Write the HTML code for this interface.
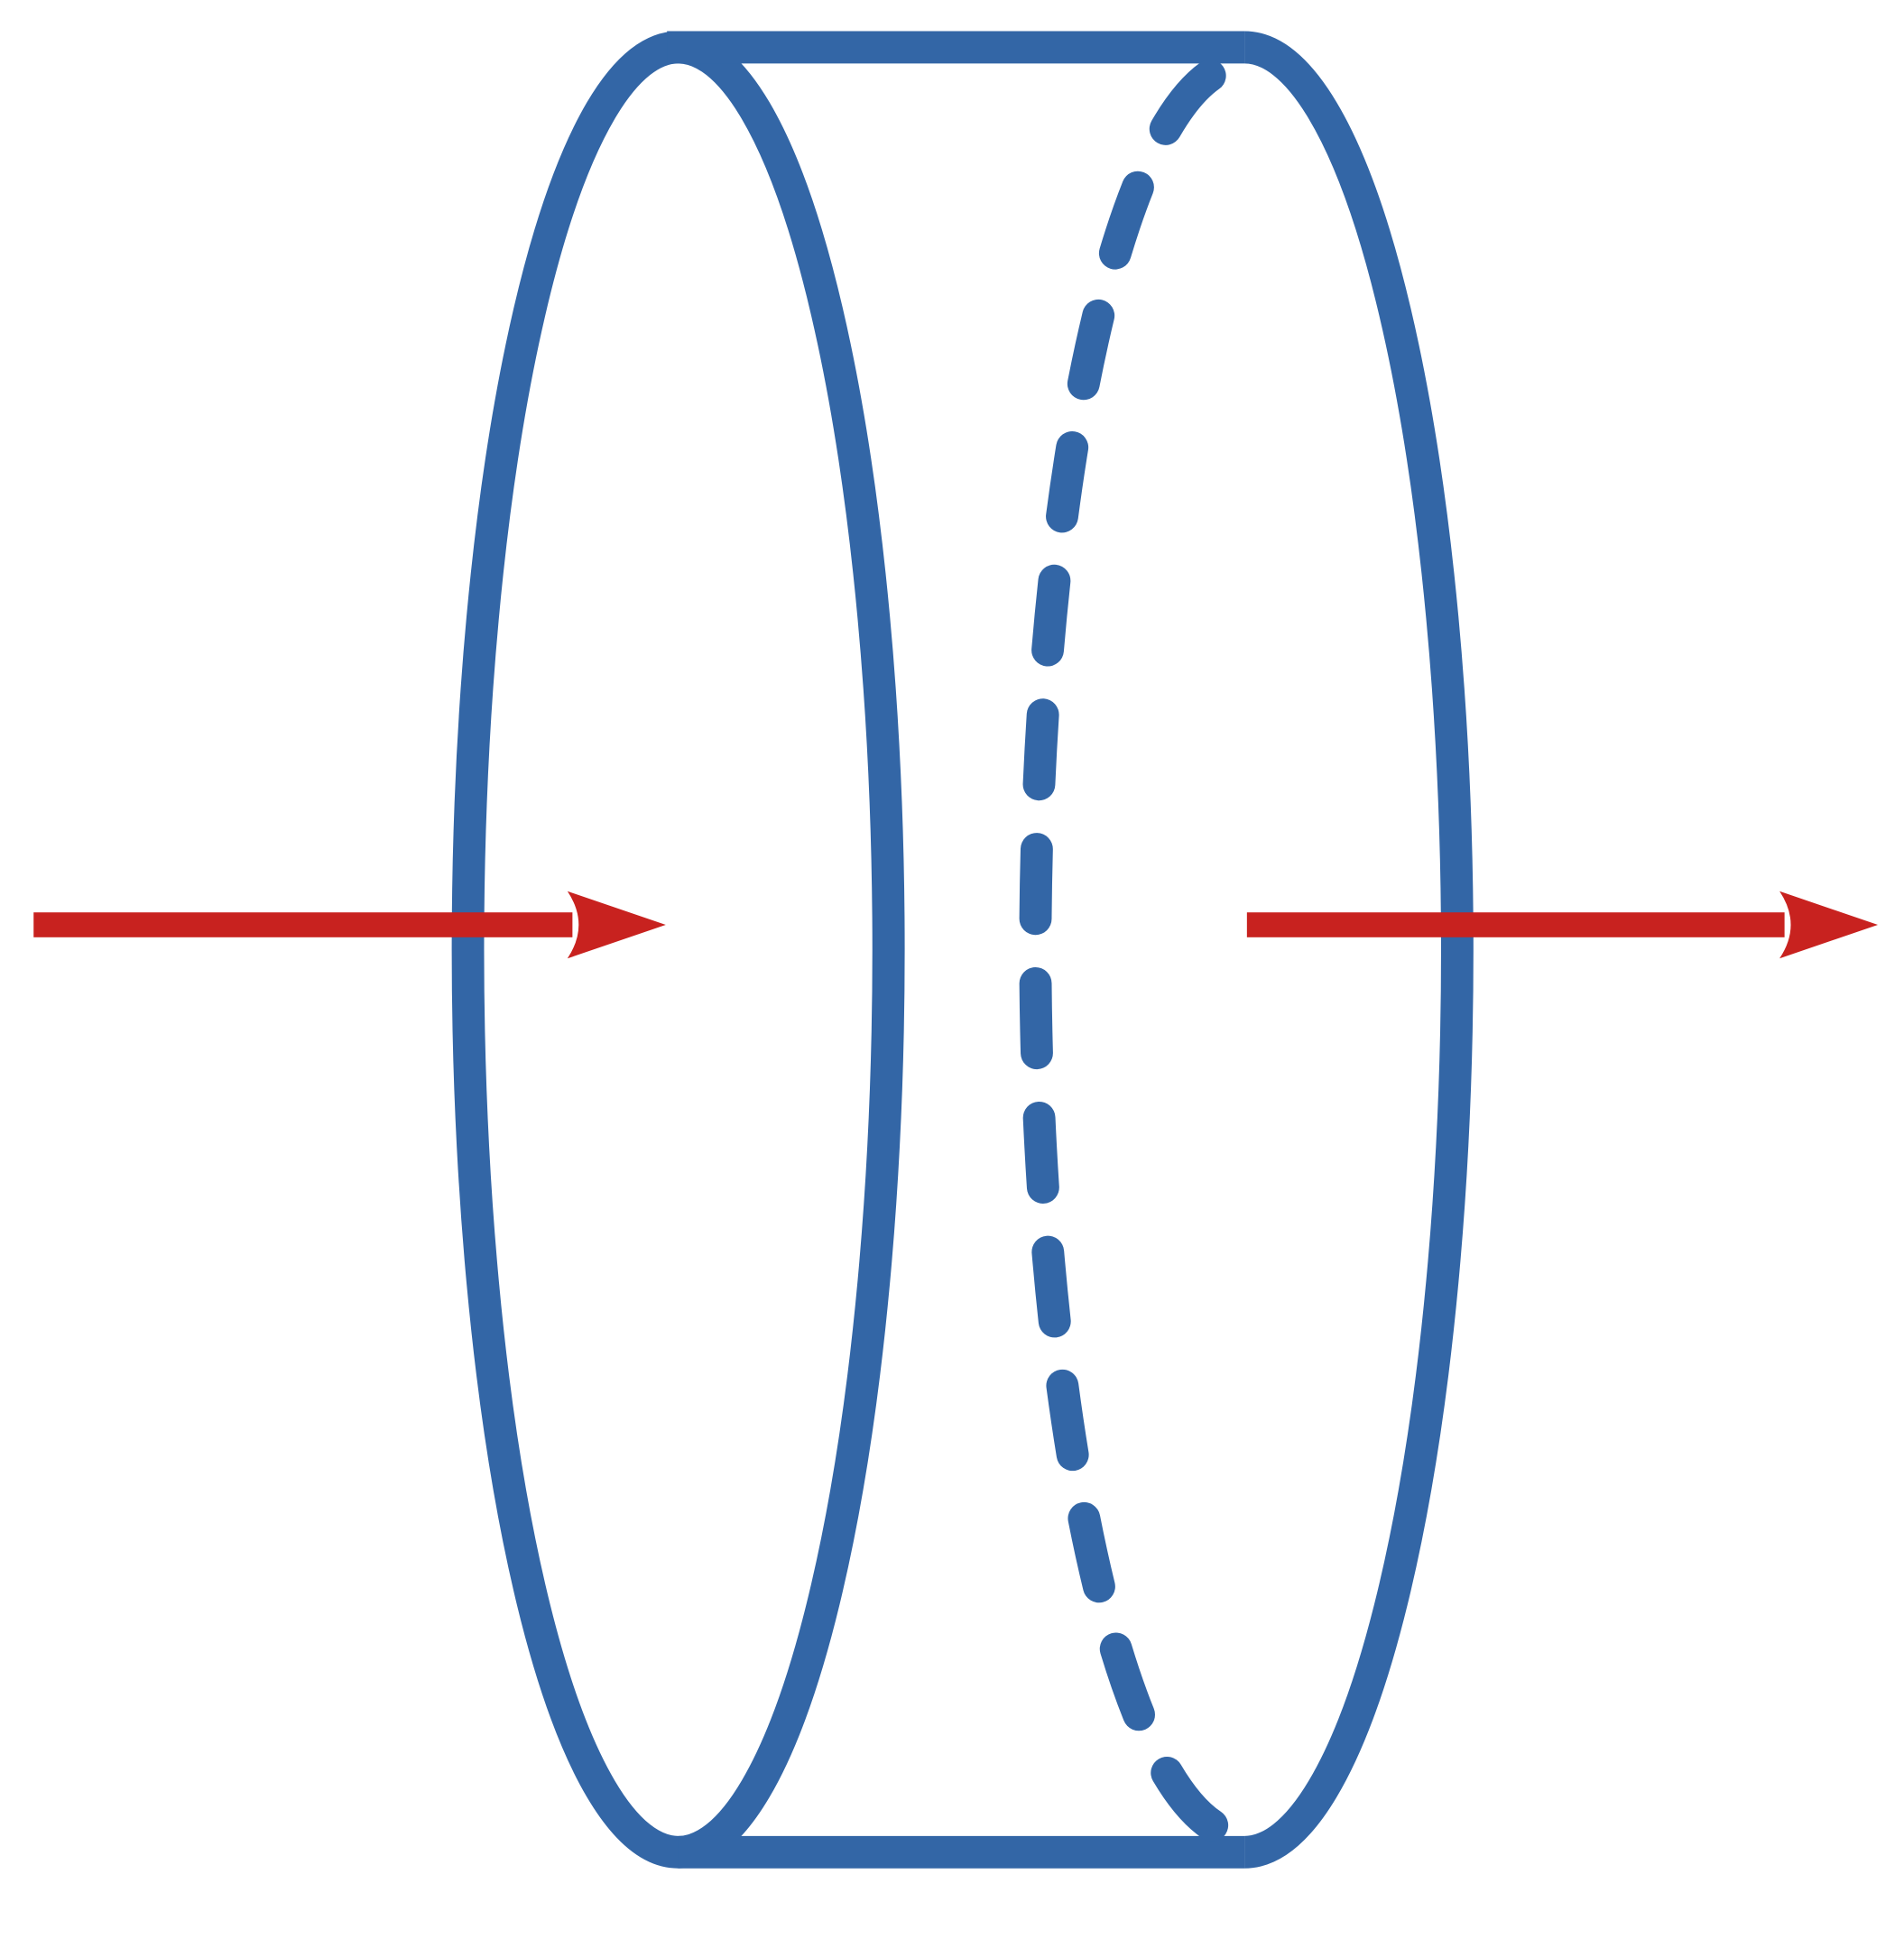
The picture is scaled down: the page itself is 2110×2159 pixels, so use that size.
<!DOCTYPE html>
<html><head><meta charset="utf-8"><style>
html,body{margin:0;padding:0;background:#fff;}
svg{display:block;}
</style></head><body>
<svg width="2110" height="2159" viewBox="0 0 1530 1565" preserveAspectRatio="none" xmlns="http://www.w3.org/2000/svg">
<g fill="none" stroke="#3366a6" stroke-width="26">
<ellipse cx="545" cy="763" rx="169" ry="725"/>
<path d="M 1000 38 A 171 725 0 0 1 1000 1488"/>
<line x1="536" y1="38" x2="1000" y2="38"/>
<line x1="545" y1="1488" x2="1000" y2="1488"/>
<path d="M 1000 51 A 168 712 0 0 0 1000 1475" stroke-dasharray="56 52" stroke-linecap="round" stroke-dashoffset="-30"/>
</g>
<g fill="#c8221f">
<rect x="27" y="733" width="433" height="20"/>
<path d="M456 716 L535 743 L456 770 Q474 743 456 716 Z"/>
<rect x="1002" y="733" width="432" height="20"/>
<path d="M1430 716 L1509 743 L1430 770 Q1448 743 1430 716 Z"/>
</g>
</svg>
</body></html>
